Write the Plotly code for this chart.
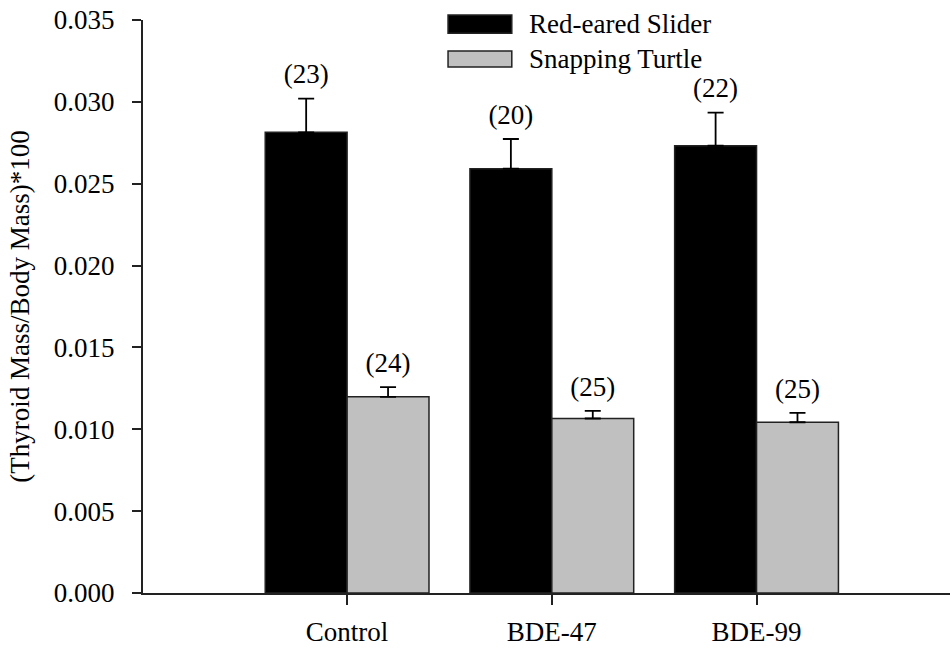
import plotly.graph_objects as go

# Thyroid mass relative to body mass, by treatment group
treatments = ["Control", "BDE-47", "BDE-99"]
slider_mean = [0.02814, 0.02592, 0.02732]
slider_err = [0.00206, 0.00181, 0.00202]
slider_n = ["(23)", "(20)", "(22)"]
snapper_mean = [0.01198, 0.01066, 0.01043]
snapper_err = [0.00060, 0.00046, 0.00057]
snapper_n = ["(24)", "(25)", "(25)"]
series_names = ["Red-eared Slider", "Snapping Turtle"]
y_ticks = [0.000, 0.005, 0.010, 0.015, 0.020, 0.025, 0.030, 0.035]

FONT = "Liberation Serif, Times New Roman, serif"
FS = 27
BLACK = "#000000"
GRAY = "#c0c0c0"
EDGE = "#222222"

fig = go.Figure()

for name, means, errs, ns, color, grp in [
    (series_names[0], slider_mean, slider_err, slider_n, BLACK, "a"),
    (series_names[1], snapper_mean, snapper_err, snapper_n, GRAY, "b"),
]:
    fig.add_trace(go.Bar(
        x=treatments, y=means, name=name, offsetgroup=grp,
        marker=dict(color=color, line=dict(color=EDGE, width=1.5)),
        error_y=dict(type="data", array=errs, symmetric=False, arrayminus=[0] * len(errs),
                     color=BLACK, thickness=1.8, width=8),
        showlegend=False,
    ))
    # sample-size labels sitting above each error bar (invisible marker pads the gap)
    fig.add_trace(go.Scatter(
        x=treatments, y=[m + e for m, e in zip(means, errs)], offsetgroup=grp,
        mode="markers+text", text=ns, textposition="top center",
        marker=dict(size=12, opacity=0),
        textfont=dict(family=FONT, size=FS, color=BLACK),
        showlegend=False, hoverinfo="skip",
    ))

# hand-drawn legend: long swatches with labels
legend_rows = [(series_names[0], BLACK, 1.0087, 0.977, 0.993),
               (series_names[1], GRAY, 0.946, 0.918, 0.932)]
for label, color, ytop, ybot, ytxt in legend_rows:
    fig.add_shape(type="rect", xref="paper", yref="paper",
                  x0=0.378, x1=0.457, y0=ybot, y1=ytop,
                  fillcolor=color, line=dict(color=EDGE, width=1.5))
    fig.add_annotation(xref="paper", yref="paper", x=0.476, y=ytxt,
                       text=label, showarrow=False, xanchor="left", yanchor="middle",
                       font=dict(family=FONT, size=FS, color=BLACK))

fig.update_layout(
    width=952, height=648,
    margin=dict(l=143, r=2, t=20, b=55),
    paper_bgcolor="white", plot_bgcolor="white",
    barmode="group", bargap=0.2, bargroupgap=0,
    scattermode="group", scattergap=0.2,
    font=dict(family=FONT, size=FS, color=BLACK),
)
fig.update_xaxes(
    range=[-0.997, 2.945], showline=True, linecolor=EDGE, linewidth=2,
    ticks="outside", ticklen=10, tickwidth=1.5, tickcolor=EDGE,
    showgrid=False, zeroline=False, ticklabelstandoff=4,
    tickfont=dict(family=FONT, size=FS, color=BLACK),
)
fig.update_yaxes(
    range=[0, 0.035], tickvals=y_ticks, ticktext=[f"{v:.3f}" for v in y_ticks],
    showline=True, linecolor=EDGE, linewidth=2,
    ticks="outside", ticklen=9, tickwidth=1.5, tickcolor=EDGE,
    showgrid=False, zeroline=False, ticklabelstandoff=12,
    tickfont=dict(family=FONT, size=FS, color=BLACK),
    title=dict(text="(Thyroid Mass/Body Mass)*100", standoff=16,
               font=dict(family=FONT, size=FS, color=BLACK)),
)

fig.write_html("out.html")
